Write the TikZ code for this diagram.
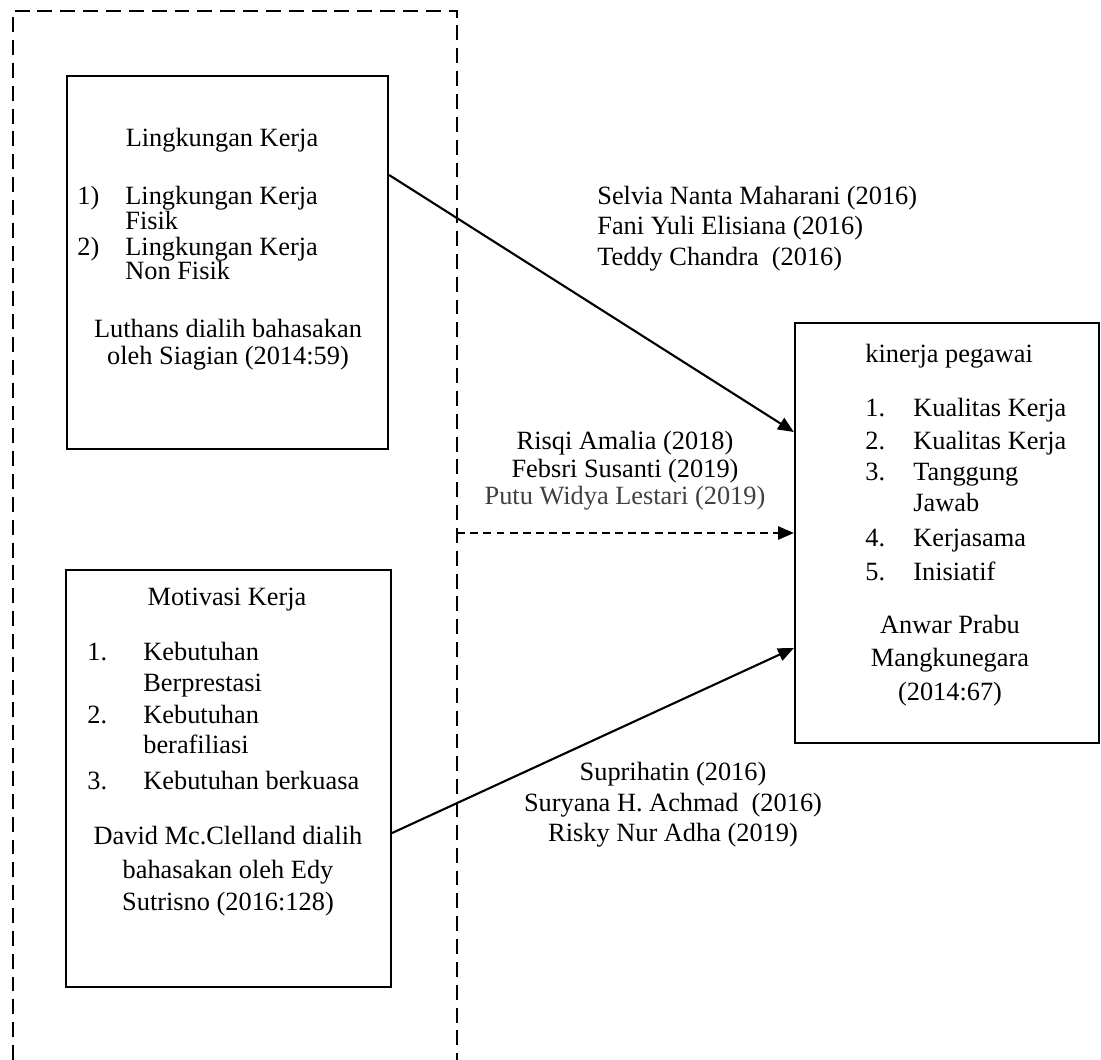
\documentclass[tikz,border=0pt]{standalone}
\usepackage{fontspec}
\setmainfont{Liberation Serif}
\usetikzlibrary{arrows.meta}
\definecolor{abu}{HTML}{404040}
\tikzset{kotak/.style={draw, line width=1.3pt, inner sep=0pt},
  bingkai/.style={line width=0.6pt, dash pattern=on 8.5pt off 4.5pt},
  panah/.style={line width=1.2pt, -{Triangle[length=9pt,width=7.5pt]}},
  teks/.style={anchor=base west, inner sep=0pt, font=\fontsize{15}{16}\selectfont},
  teksc/.style={teks, anchor=base}}

\begin{document}
\begin{tikzpicture}[x=0.02cm, y=-0.02cm]
  \useasboundingbox (0,0) rectangle (1101,1060);
  % kotak variabel
  \draw[bingkai] (13,1060) -- (13,11) -- (457,11) -- (457,1060);
  \node[kotak, minimum width=6.42cm, minimum height=7.46cm] (lingkungan) at (227.5,262.5) {};
  \node[kotak, minimum width=6.5cm, minimum height=8.34cm] (motivasi) at (228.5,778.5) {};
  \node[kotak, minimum width=6.08cm, minimum height=8.4cm] (kinerja) at (947,533) {};

  % lingkungan kerja
  \node[teksc] (judulLK) at (222,147) {Lingkungan Kerja};
  \node[teks] (noLK1) at (77,205) {1)};
  \node[teks] (LK1) at (125,205) {Lingkungan Kerja};
  \node[teks] (LK1b) at (125,230) {Fisik};
  \node[teks] (noLK2) at (77,256) {2)};
  \node[teks] (LK2) at (125,256) {Lingkungan Kerja};
  \node[teks] (LK2b) at (125,280) {Non Fisik};
  \node[teksc] (sumberLK1) at (228,338) {Luthans dialih bahasakan};
  \node[teksc] (sumberLK2) at (228,365) {oleh Siagian (2014:59)};

  % motivasi kerja
  \node[teksc] (judulMK) at (227,605) {Motivasi Kerja};
  \node[teks] (noMK1) at (87,660) {1.};
  \node[teks] (MK1) at (143,660) {Kebutuhan};
  \node[teks] (MK1b) at (143,691) {Berprestasi};
  \node[teks] (noMK2) at (87,723) {2.};
  \node[teks] (MK2) at (143,723) {Kebutuhan};
  \node[teks] (MK2b) at (143,753) {berafiliasi};
  \node[teks] (noMK3) at (87,789) {3.};
  \node[teks] (MK3) at (143,789) {Kebutuhan berkuasa};
  \node[teksc] (sumberMK1) at (228,844) {David Mc.Clelland dialih};
  \node[teksc] (sumberMK2) at (228,878) {bahasakan oleh Edy};
  \node[teksc] (sumberMK3) at (228,910) {Sutrisno (2016:128)};

  % kinerja pegawai
  \node[teks] (judulKP) at (865,363) {kinerja pegawai};
  \node[teks] (noKP1) at (865,417) {1.};
  \node[teks] (KP1) at (913,417) {Kualitas Kerja};
  \node[teks] (noKP2) at (865,449) {2.};
  \node[teks] (KP2) at (913,449) {Kualitas Kerja};
  \node[teks] (noKP3) at (865,480) {3.};
  \node[teks] (KP3) at (913,480) {Tanggung};
  \node[teks] (KP3b) at (913,511) {Jawab};
  \node[teks] (noKP4) at (865,546) {4.};
  \node[teks] (KP4) at (913,546) {Kerjasama};
  \node[teks] (noKP5) at (865,580) {5.};
  \node[teks] (KP5) at (913,580) {Inisiatif};
  \node[teksc] (sumberKP1) at (950,633) {Anwar Prabu};
  \node[teksc] (sumberKP2) at (950,666) {Mangkunegara};
  \node[teksc] (sumberKP3) at (950,700) {(2014:67)};

  % penelitian terdahulu
  \node[teks] (acuan1a) at (597,205) {Selvia Nanta Maharani (2016)};
  \node[teks] (acuan1b) at (597,235) {Fani Yuli Elisiana (2016)};
  \node[teks] (acuan1c) at (597,266) {Teddy Chandra\ \ (2016)};
  \node[teksc] (acuan2a) at (625,449) {Risqi Amalia (2018)};
  \node[teksc] (acuan2b) at (625,477) {Febsri Susanti (2019)};
  \node[teksc, abu] (acuan2c) at (625,504) {Putu Widya Lestari (2019)};
  \node[teksc] (acuan3a) at (673,780) {Suprihatin (2016)};
  \node[teksc] (acuan3b) at (673,811) {Suryana H. Achmad\ \ (2016)};
  \node[teksc] (acuan3c) at (673,841) {Risky Nur Adha (2019)};

  % hubungan
  \coordinate (simultan) at (457,533);
  \draw[panah] ([yshift=1.75cm]lingkungan.east) -- ([yshift=2.02cm]kinerja.west);
  \draw[panah, dash pattern=on 4.5pt off 3pt] (simultan) -- (kinerja.west);
  \draw[panah] ([yshift=-1.09cm]motivasi.east) -- ([yshift=-2.3cm]kinerja.west);
\end{tikzpicture}
\end{document}
